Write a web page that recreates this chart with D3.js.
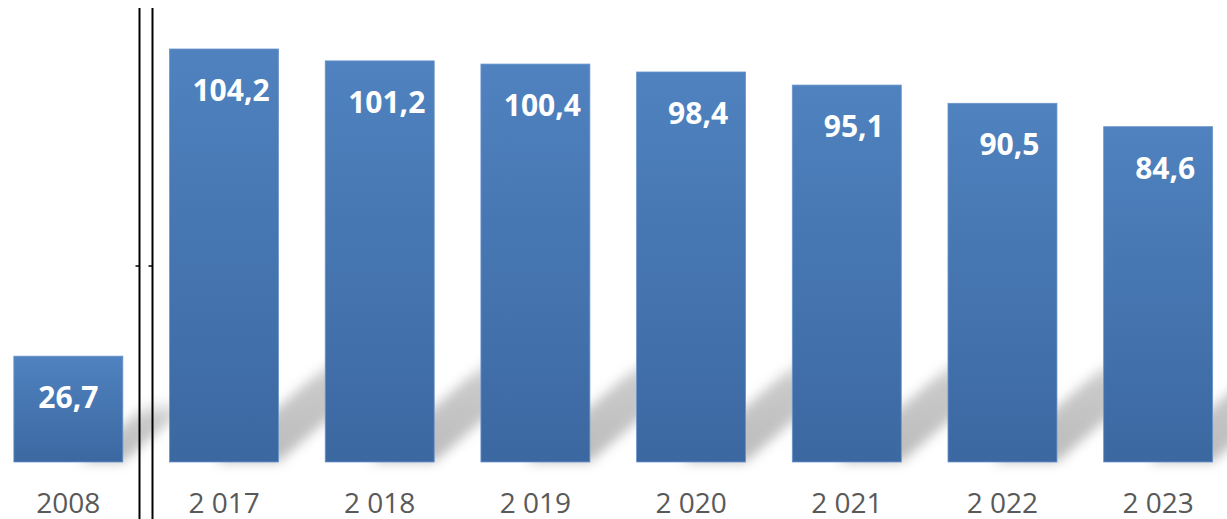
<!DOCTYPE html>
<html>
<head>
<meta charset="utf-8">
<script src="https://cdn.jsdelivr.net/npm/d3@7"></script>
<style>
  body { margin: 0; background: #fff; }
  .cat-label { font-family: "Open Sans", sans-serif; font-size: 28px; fill: #595959; }
  .val-label { font-family: "Open Sans", sans-serif; font-weight: bold; font-size: 30px; fill: #fff; }
</style>
</head>
<body>
<div id="chart"></div>
<script>
// categories and values
const years = ["2008", "2 017", "2 018", "2 019", "2 020", "2 021", "2 022", "2 023"];
const values = [26.7, 104.2, 101.2, 100.4, 98.4, 95.1, 90.5, 84.6];
const valueLabels = ["26,7", "104,2", "101,2", "100,4", "98,4", "95,1", "90,5", "84,6"];

const width = 1227, height = 519;
const base = 462;

const svg = d3.select("#chart").append("svg")
    .attr("width", width)
    .attr("height", height);

const defs = svg.append("defs");

let grad = defs.append("linearGradient")
    .attr("id", "barGrad")
    .attr("x1", 0).attr("y1", 0)
    .attr("x2", 0).attr("y2", 1);
grad.append("stop").attr("offset", "0%").attr("stop-color", "#4f82bf");
grad.append("stop").attr("offset", "100%").attr("stop-color", "#3c68a1");

// shadow fades out as it goes up
let sgrad = defs.append("linearGradient")
    .attr("id", "shadowGrad")
    .attr("x1", 0).attr("y1", 1)
    .attr("x2", 0).attr("y2", 0);
sgrad.append("stop").attr("offset", "0%").attr("stop-color", "#b4b4b4");
sgrad.append("stop").attr("offset", "70%").attr("stop-color", "#c4c4c4");
sgrad.append("stop").attr("offset", "100%").attr("stop-color", "#ffffff");

defs.append("filter")
    .attr("id", "blur")
    .attr("x", "-50%").attr("y", "-50%")
    .attr("width", "200%").attr("height", "200%")
    .append("feGaussianBlur")
    .attr("stdDeviation", 6);

const x = d3.scaleBand()
    .domain(years)
    .range([-9.5, 1236])
    .paddingInner(0.3)
    .paddingOuter(0.15);

const y = d3.scaleLinear()
    .domain([0, 104.2])
    .range([base, 49]);

// perspective floor shadows: a slanted band leaving each bar's bottom right corner
svg.append("g")
    .selectAll("polygon")
    .data(values)
    .enter()
    .append("polygon")
    .attr("points", (d, i) => {
        let x1 = x(years[i]) + x.bandwidth();
        let h = base - y(d);
        let band = Math.min(55, h * 0.35);   // vertical thickness of the band
        let H = Math.min(115, h * 0.6);      // how far up it reaches
        let k = 1.16;                        // horizontal shift per px of height
        return [[x1 - band * k, base], [x1, base], [x1 + H * k, base - H], [x1 - band * k + H * k, base - H]]
            .map(p => p.join(",")).join(" ");
    })
    .attr("fill", "url(#shadowGrad)")
    .attr("opacity", 0.9)
    .attr("filter", "url(#blur)");

// bars
svg.append("g")
    .selectAll("rect")
    .data(values)
    .enter()
    .append("rect")
    .attr("x", (d, i) => x(years[i]))
    .attr("y", d => y(d))
    .attr("width", x.bandwidth())
    .attr("height", d => base - y(d))
    .attr("fill", "url(#barGrad)")
    .attr("stroke", "#6a95cc")
    .attr("stroke-width", 0.8);

// value labels
svg.append("g")
    .selectAll("text")
    .data(values)
    .enter()
    .append("text")
    .attr("class", "val-label")
    .attr("x", (d, i) => x(years[i]) + x.bandwidth() / 2 + (i == 0 ? 0 : 7))
    .attr("y", d => y(d) + 52)
    .attr("text-anchor", "middle")
    .text((d, i) => valueLabels[i]);

// category labels
svg.append("g")
    .selectAll("text")
    .data(years)
    .enter()
    .append("text")
    .attr("class", "cat-label")
    .attr("x", d => x(d) + x.bandwidth() / 2)
    .attr("y", 513)
    .attr("text-anchor", "middle")
    .text(d => d);

// axis break: double vertical line between 2008 and 2017
const breaks = [139.5, 152.5];
svg.append("g")
    .selectAll("line")
    .data(breaks)
    .enter()
    .append("line")
    .attr("x1", d => d).attr("x2", d => d)
    .attr("y1", 8).attr("y2", height)
    .attr("stroke", "#000")
    .attr("stroke-width", 2);

svg.append("g")
    .selectAll("line")
    .data(breaks)
    .enter()
    .append("line")
    .attr("x1", d => d - 4).attr("x2", d => d)
    .attr("y1", 266).attr("y2", 266)
    .attr("stroke", "#000")
    .attr("stroke-width", 1.5);
</script>
</body>
</html>
